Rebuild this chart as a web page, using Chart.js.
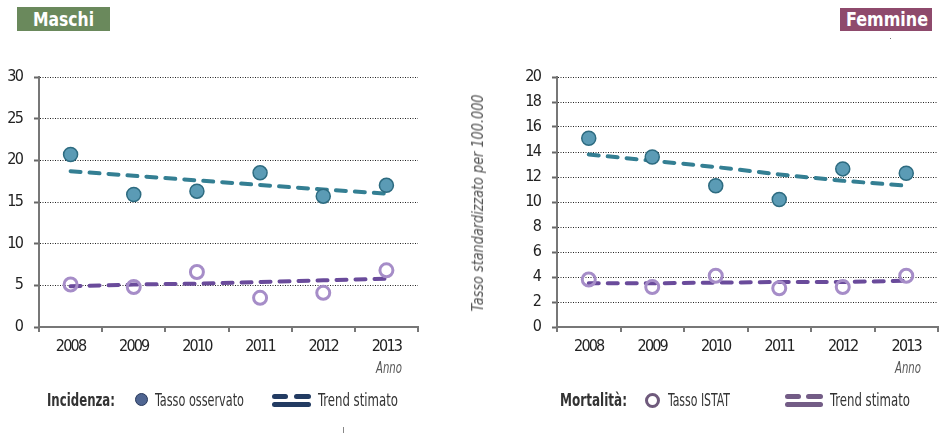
<!DOCTYPE html>
<html><head><meta charset="utf-8">
<script src="https://cdn.jsdelivr.net/npm/chart.js@4"></script>
<style>
body{margin:0;width:950px;height:443px;background:#fff;position:relative;overflow:hidden;font-family:"DejaVu Sans Condensed","DejaVu Sans",sans-serif;color:#333}
.abs{position:absolute}
.hdr{position:absolute}
.hdr span{position:absolute;color:#fff;font-weight:bold;font-size:19px;white-space:nowrap;transform-origin:0 50%}
.fit{position:absolute;white-space:nowrap;transform-origin:0 50%}
.lg{font-size:17px;line-height:20px;color:#333}
.it{font-style:italic;color:#555;font-size:15px;line-height:16px}
.bar{position:absolute;height:5px;border-radius:3px}
</style></head>
<body>
<div class="hdr" style="left:17px;top:7px;width:93px;height:24px;background:#6a895c"><span class="fit" data-w="61" style="left:16px;top:0;line-height:24px">Maschi</span></div>
<div class="hdr" style="left:840px;top:8px;width:92px;height:23px;background:#8e4a6c"><span class="fit" data-w="82" style="left:6px;top:0;line-height:23px">Femmine</span></div>
<div class="abs" style="left:890px;top:38px;width:1px;height:1px;background:#777"></div>

<canvas id="cM" class="abs" style="left:0;top:0" width="440" height="443"></canvas>
<canvas id="cF" class="abs" style="left:460px;top:0" width="490" height="443"></canvas>

<div class="abs" style="left:478px;top:203px;width:0;height:0">
  <div id="ytitle" class="it" style="position:absolute;left:0;top:0;white-space:nowrap;font-size:16px">Tasso standardizzato per 100.000</div>
</div>
<div class="fit it" data-w="26" style="left:376px;top:360px">Anno</div>
<div class="fit it" data-w="26" style="left:895px;top:360px">Anno</div>

<div class="fit lg" data-w="68" style="left:47px;top:390px;font-weight:bold">Incidenza:</div>
<div class="abs" style="left:135px;top:393px;width:11px;height:11px;border-radius:50%;background:#4f6591;border:1.5px solid #27385a"></div>
<div class="fit lg" data-w="89" style="left:155px;top:390px">Tasso osservato</div>
<div class="bar" style="left:272px;top:394px;width:16px;background:#223b62"></div>
<div class="bar" style="left:294px;top:394px;width:17px;background:#223b62"></div>
<div class="bar" style="left:272px;top:402px;width:39px;background:#223b62"></div>
<div class="fit lg" data-w="80" style="left:318px;top:390px">Trend stimato</div>
<div class="abs" style="left:343px;top:427px;width:1px;height:6px;background:#888"></div>

<div class="fit lg" data-w="67" style="left:560px;top:390px;font-weight:bold">Mortalità:</div>
<div class="abs" style="left:645px;top:393px;width:9px;height:9px;border-radius:50%;border:3px solid #6f5a7c"></div>
<div class="fit lg" data-w="62" style="left:668px;top:390px">Tasso ISTAT</div>
<div class="bar" style="left:785px;top:394px;width:16px;background:#735c86"></div>
<div class="bar" style="left:806px;top:394px;width:17px;background:#735c86"></div>
<div class="bar" style="left:785px;top:402px;width:38px;background:#735c86"></div>
<div class="fit lg" data-w="80" style="left:830px;top:390px">Trend stimato</div>

<script>
const years = ['2008','2009','2010','2011','2012','2013'];
const maschiOsservato = [20.7, 15.9, 16.3, 18.5, 15.7, 17.0];
const maschiTrend = [18.7, 18.15, 17.6, 17.05, 16.5, 16.0];
const maschiIstat = [5.1, 4.8, 6.6, 3.5, 4.1, 6.8];
const maschiIstatTrend = [4.9, 5.1, 5.2, 5.4, 5.6, 5.8];
const femmineOsservato = [15.1, 13.6, 11.3, 10.2, 12.65, 12.3];
const femmineTrend = [13.8, 13.3, 12.8, 12.2, 11.7, 11.3];
const femmineIstat = [3.8, 3.2, 4.1, 3.1, 3.2, 4.1];
const femmineIstatTrend = [3.5, 3.5, 3.55, 3.6, 3.6, 3.7];
const maschiAxis = {max: 30, step: 5};
const femmineAxis = {max: 20, step: 2};

// condense HTML text to the reference widths
document.querySelectorAll('.fit').forEach(el => {
  const w = el.getBoundingClientRect().width;
  const target = +el.dataset.w;
  if (w > 0 && target) el.style.transform = 'scaleX(' + (target / w) + ')';
});
(function(){
  const el = document.getElementById('ytitle');
  const w = el.getBoundingClientRect().width;
  const h = el.getBoundingClientRect().height;
  const s = 217 / w;
  el.style.transformOrigin = '0 0';
  el.style.transform = 'rotate(-90deg) scaleX(' + s + ') translate(' + (-w/2) + 'px,' + (-h/2) + 'px)';
})();

const FONT = '"DejaVu Sans Condensed","DejaVu Sans",sans-serif';
const narrowText = {
  id: 'narrowText',
  beforeDraw(chart) { chart.ctx.letterSpacing = '-1.8px'; }
};

function makeChart(id, obs, tr, ist, istTr, axis, padL, padR) {
  return new Chart(document.getElementById(id), {
    type: 'line',
    plugins: [narrowText],
    data: {
      labels: years,
      datasets: [
        {data: tr, borderColor: '#347f93', borderWidth: 4, borderDash: [10, 9], borderCapStyle: 'round', pointRadius: 0, fill: false, order: 3},
        {data: istTr, borderColor: '#6a4b9b', borderWidth: 4, borderDash: [10, 9], borderCapStyle: 'round', pointRadius: 0, fill: false, order: 4},
        {data: obs, showLine: false, pointRadius: 7, pointBackgroundColor: '#5b9bb5', pointBorderColor: '#2d6b80', pointBorderWidth: 1.5, order: 1},
        {data: ist, showLine: false, pointRadius: 6.5, pointBackgroundColor: 'rgba(255,255,255,0)', pointBorderColor: '#a68dc8', pointBorderWidth: 3, order: 2}
      ]
    },
    options: {
      responsive: false,
      animation: false,
      devicePixelRatio: 1,
      layout: {padding: {top: 77, left: padL, right: padR, bottom: 86}},
      plugins: {legend: {display: false}, tooltip: {enabled: false}},
      scales: {
        x: {
          type: 'category', offset: true,
          grid: {display: true, drawOnChartArea: false, drawTicks: true, tickLength: 5, offset: true, color: '#777', tickColor: '#777', tickWidth: 2, lineWidth: 2},
          border: {display: true, color: '#777', width: 2},
          ticks: {color: '#222', font: {size: 16, family: FONT}, padding: 5, maxRotation: 0},
          afterFit: s => { s.height = 30; }
        },
        y: {
          min: 0, max: axis.max,
          grid: {color: c => c.tick && c.tick.value === 0 ? 'rgba(0,0,0,0)' : '#222', lineWidth: 1, tickLength: 5, tickColor: '#666', tickWidth: 2},
          border: {display: true, color: '#777', width: 2, dash: [1, 1.5]},
          ticks: {stepSize: axis.step, color: '#222', font: {size: 16, family: FONT}, padding: 12},
          afterFit: s => { s.width = 39; }
        }
      }
    }
  });
}
makeChart('cM', maschiOsservato, maschiTrend, maschiIstat, maschiIstatTrend, maschiAxis, 0, 22);
makeChart('cF', femmineOsservato, femmineTrend, femmineIstat, femmineIstatTrend, femmineAxis, 58, 12);
</script>
</body></html>
